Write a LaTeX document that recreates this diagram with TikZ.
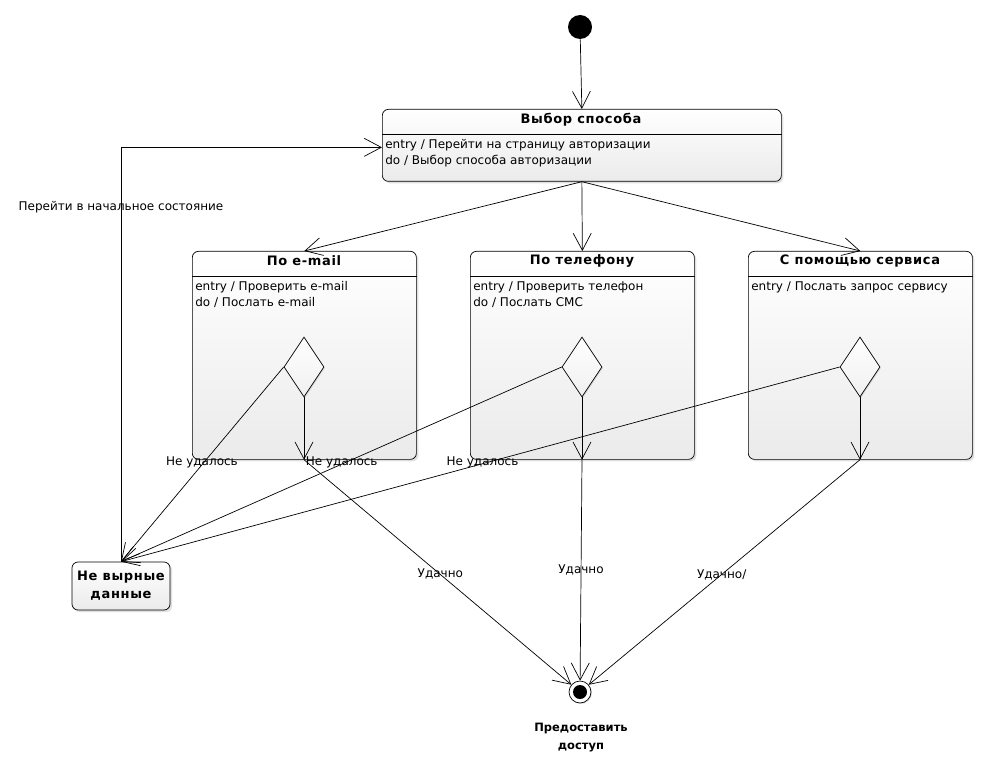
\documentclass[tikz,border=0pt]{standalone}
\usepackage{fontspec}
\setmainfont{DejaVu Sans}
\newfontfamily\titlefont[LetterSpace=5]{DejaVu Sans}
\usetikzlibrary{arrows.meta, shapes.geometric, shadows, positioning}

\begin{document}
\begin{tikzpicture}[x=1pt, y=-1pt, font=\fontsize{12}{16}\selectfont, line width=0.7pt,
    state/.style={draw, rounded corners=6pt, inner sep=0pt, top color=white, bottom color=gray!16,
        drop shadow={opacity=0.25, shadow xshift=2pt, shadow yshift=-2pt}},
    choice/.style={diamond, draw, inner sep=0pt, minimum width=40pt, minimum height=60pt,
        top color=white, bottom color=gray!12,
        drop shadow={opacity=0.25, shadow xshift=1pt, shadow yshift=-1pt}},
    title/.style={font=\fontsize{13}{16}\selectfont\titlefont\bfseries},
    trans/.style={-{Straight Barb[length=17pt, width=18pt]}},
    acts/.style={anchor=north west, align=left, inner sep=0pt},
    lbl/.style={inner sep=1pt}]
    \useasboundingbox (0,0) rectangle (987,767);

	\node[circle, fill=black, minimum size=24pt, inner sep=0pt] (init) at (580,27) {};

	\node[state, anchor=north west, minimum width=399pt, minimum height=72pt] (select) at (382,109) {};
	\node[title] (selectT) at (581,120) {Выбор способа};
	\draw (select.west |- 0,134) -- (select.east |- 0,134);
	\node[acts] (selectA) at (385,139) {entry / Перейти на страницу авторизации\\do / Выбор способа авторизации};

	\node[state, anchor=north west, minimum width=224pt, minimum height=208pt] (email) at (192,251) {};
	\node[title] (emailT) at (304,261) {По e-mail};
	\draw (email.west |- 0,276) -- (email.east |- 0,276);
	\node[acts] (emailA) at (195,281) {entry / Проверить e-mail\\do / Послать e-mail};
	\node[choice] (d1) at (304,367) {};

	\node[state, anchor=north west, minimum width=224pt, minimum height=208pt] (phone) at (470,251) {};
	\node[title] (phoneT) at (582,261) {По телефону};
	\draw (phone.west |- 0,276) -- (phone.east |- 0,276);
	\node[acts] (phoneA) at (473,281) {entry / Проверить телефон\\do / Послать СМС};
	\node[choice] (d2) at (582,367) {};

	\node[state, anchor=north west, minimum width=224pt, minimum height=208pt] (service) at (748,251) {};
	\node[title] (serviceT) at (860,261) {С помощью сервиса};
	\draw (service.west |- 0,276) -- (service.east |- 0,276);
	\node[acts] (serviceA) at (751,281) {entry / Послать запрос сервису};
	\node[choice] (d3) at (860,367) {};

	\node[state, minimum width=98pt, minimum height=48pt, align=center,
	    font=\fontsize{13}{18}\selectfont\titlefont\bfseries] (wrong) at (121,586) {Не вырные\\данные};

	\node[circle, draw, fill=white, minimum size=22pt, inner sep=0pt,
	    drop shadow={opacity=0.25, shadow xshift=1pt, shadow yshift=-1pt}] (final) at (580,692) {};
	\node[circle, fill=black, minimum size=14pt, inner sep=0pt] (finalC) at (final) {};
	\node[align=center, font=\fontsize{11.5}{18}\selectfont\bfseries] (finalL) at (581,738) {Предоставить\\доступ};

	\coordinate (e1) at (d1.south |- email.south);
	\coordinate (e2) at (d2.south |- phone.south);
	\coordinate (e3) at (d3.south |- service.south);

	\draw[trans] (init) -- (select.north);
	\draw[trans] (select.south) -- (email.north);
	\draw[trans] (select.south) -- (phone.north);
	\draw[trans] (select.south) -- (service.north);

	\draw[trans] (d1.south) -- (e1);
	\draw[trans] (d2.south) -- (e2);
	\draw[trans] (d3.south) -- (e3);

	\draw[trans] (d1.west) -- node[lbl, pos=0.49, xshift=-2pt] {Не удалось} (wrong.north);
	\draw[trans] (d2.west) -- node[lbl, pos=0.49, xshift=-4pt] {Не удалось} (wrong.north);
	\draw[trans] (d3.west) -- node[lbl, pos=0.49, xshift=-5pt] {Не удалось} (wrong.north);

	\draw[trans] (e1) -- node[lbl, pos=0.51] {Удачно} (final);
	\draw[trans] (e2) -- node[lbl, pos=0.5] {Удачно} (final);
	\draw[trans] (e3) -- node[lbl, pos=0.51] {Удачно/} (final);

	\draw[trans] (wrong.north) |- node[lbl, pos=0.428] {Перейти в начальное состояние} ([yshift=-2pt]select.west);
\end{tikzpicture}
\end{document}
